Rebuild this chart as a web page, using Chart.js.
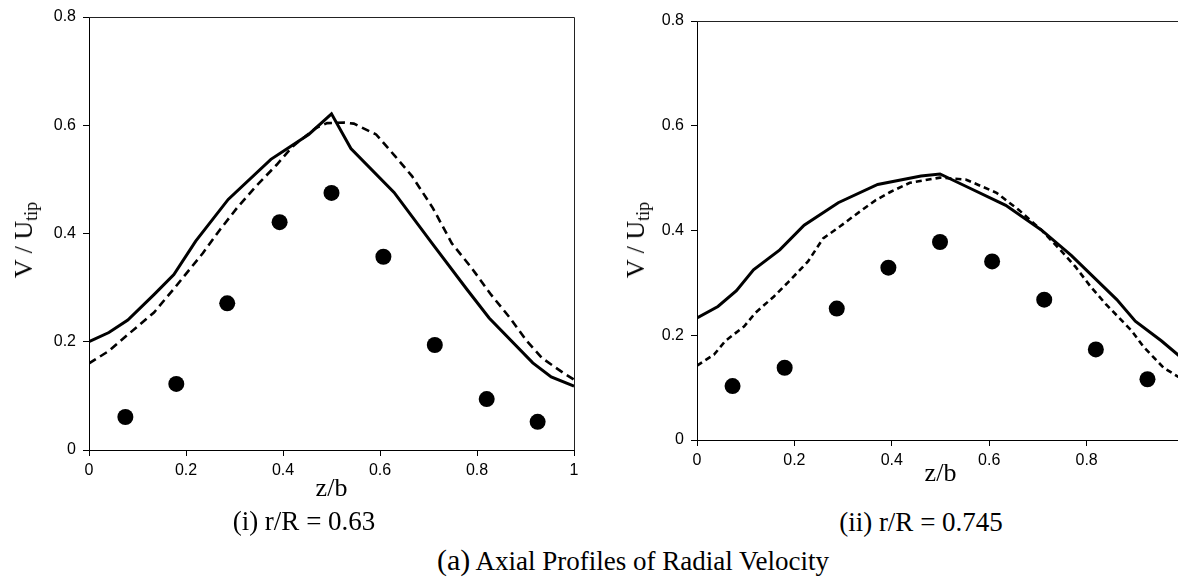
<!DOCTYPE html>
<html>
<head>
<meta charset="utf-8">
<title>Axial Profiles of Radial Velocity</title>
<script src="https://cdn.jsdelivr.net/npm/chart.js@4.4.1/dist/chart.umd.min.js"></script>
<style>
    html, body { margin: 0; padding: 0; background: #fff; }
    body { position: relative; width: 1178px; height: 577px; overflow: hidden; }
    .box { position: absolute; top: 0; }
    .serif { position: absolute; font-family: 'Liberation Serif', 'Times New Roman', serif; color: #000; white-space: nowrap; line-height: 1; }
    .ytitle { font-size: 26px; transform: translate(-50%, -50%) rotate(-90deg); }
    .ytitle sub { font-size: 18px; line-height: 0; vertical-align: -5px; }
    .caption { font-size: 27px; transform: translateX(-50%); }
    .caption .tag { font-size: 30px; }
</style>
</head>
<body>
<div class="box" style="left:0; width:590px; height:509px;"><canvas id="chartLeft"></canvas></div>
<div class="box" style="left:590px; width:610px; height:494px;"><canvas id="chartRight"></canvas></div>

<div class="serif ytitle" style="left:24px; top:240px;">V / U<sub>tip</sub></div>
<div class="serif ytitle" style="left:636px; top:240px;">V / U<sub>tip</sub></div>
<div class="serif caption" style="left:304px; top:508px;">(i) r/R = 0.63</div>
<div class="serif caption" style="left:921px; top:509px;">(ii) r/R = 0.745</div>
<div class="serif caption" style="left:633px; top:545px;"><span class="tag">(a)</span> Axial Profiles of Radial Velocity</div>

<script>
// tick labels
const xTickLabels = ['0', '0.2', '0.4', '0.6', '0.8', '1'];
const yTickLabels = ['0', '0.2', '0.4', '0.6', '0.8'];

// (i) r/R = 0.63
const expZ1 = [0.075, 0.18, 0.285, 0.393, 0.5, 0.607, 0.713, 0.82, 0.925];
const expV1 = [0.061, 0.122, 0.271, 0.421, 0.475, 0.357, 0.194, 0.094, 0.052];
const solidZ1 = [0, 0.041, 0.08, 0.134, 0.175, 0.22, 0.287, 0.375, 0.406, 0.453, 0.5, 0.54, 0.629, 0.709, 0.779, 0.825, 0.915, 0.953, 1.0];
const solidV1 = [0.2, 0.217, 0.24, 0.287, 0.324, 0.386, 0.463, 0.537, 0.555, 0.583, 0.621, 0.557, 0.476, 0.38, 0.297, 0.244, 0.161, 0.135, 0.118];
const dashZ1 = [0, 0.041, 0.076, 0.134, 0.177, 0.235, 0.27, 0.305, 0.344, 0.387, 0.42, 0.468, 0.491, 0.526, 0.546, 0.592, 0.631, 0.666, 0.709, 0.748, 0.79, 0.829, 0.868, 0.903, 0.934, 0.977, 1.0];
const dashV1 = [0.16, 0.183, 0.21, 0.254, 0.3, 0.364, 0.407, 0.447, 0.487, 0.527, 0.561, 0.595, 0.604, 0.605, 0.603, 0.583, 0.543, 0.506, 0.447, 0.382, 0.335, 0.287, 0.244, 0.201, 0.17, 0.143, 0.13];

// (ii) r/R = 0.745
const expZ2 = [0.073, 0.18, 0.287, 0.393, 0.499, 0.606, 0.713, 0.819, 0.925];
const expV2 = [0.103, 0.138, 0.251, 0.329, 0.378, 0.341, 0.268, 0.173, 0.116];
const solidZ2 = [0, 0.043, 0.081, 0.116, 0.17, 0.22, 0.29, 0.371, 0.46, 0.499, 0.553, 0.634, 0.707, 0.769, 0.862, 0.9, 0.954, 0.991, 1.0];
const solidV2 = [0.233, 0.255, 0.285, 0.325, 0.363, 0.41, 0.453, 0.488, 0.504, 0.508, 0.484, 0.448, 0.401, 0.352, 0.268, 0.227, 0.189, 0.16, 0.155];
const dashZ2 = [0, 0.035, 0.058, 0.097, 0.12, 0.158, 0.189, 0.228, 0.259, 0.294, 0.321, 0.367, 0.398, 0.437, 0.499, 0.553, 0.615, 0.661, 0.707, 0.746, 0.777, 0.808, 0.839, 0.893, 0.916, 0.958, 0.991, 1.0];
const dashV2 = [0.142, 0.163, 0.189, 0.217, 0.243, 0.274, 0.303, 0.341, 0.385, 0.408, 0.427, 0.458, 0.474, 0.491, 0.501, 0.497, 0.472, 0.439, 0.401, 0.363, 0.331, 0.293, 0.26, 0.208, 0.179, 0.138, 0.119, 0.115];

const toPoints = (xs, ys) => xs.map((x, i) => ({ x: x, y: ys[i] }));

// top and right border of the plot box
const frame = {
    id: 'frame',
    beforeDatasetsDraw(chart) {
        const { ctx, chartArea: a } = chart;
        ctx.save();
        ctx.strokeStyle = '#222';
        ctx.lineWidth = 1;
        ctx.beginPath();
        ctx.moveTo(a.left, Math.round(a.top) + 0.5);
        ctx.lineTo(Math.round(a.right) + 0.5, Math.round(a.top) + 0.5);
        ctx.lineTo(Math.round(a.right) + 0.5, a.bottom);
        ctx.stroke();
        ctx.restore();
    }
};

function makeChart(id, exp, solid, dash, dashPattern, pad, xHeight) {
    const ctx = document.getElementById(id).getContext('2d');
    return new Chart(ctx, {
        type: 'scatter',
        data: {
            datasets: [
                {
                    label: 'Experiment',
                    data: exp,
                    pointRadius: 8,
                    pointBackgroundColor: '#000',
                    pointBorderWidth: 0,
                    showLine: false
                },
                {
                    label: 'Model A',
                    data: solid,
                    showLine: true,
                    borderColor: '#000',
                    borderWidth: 3,
                    pointRadius: 0,
                    tension: 0
                },
                {
                    label: 'Model B',
                    data: dash,
                    showLine: true,
                    borderColor: '#000',
                    borderWidth: 2.6,
                    borderDash: dashPattern,
                    pointRadius: 0,
                    tension: 0
                }
            ]
        },
        options: {
            responsive: true,
            maintainAspectRatio: false,
            animation: false,
            layout: { padding: pad },
            plugins: {
                legend: { display: false },
                tooltip: { enabled: false }
            },
            scales: {
                x: {
                    type: 'linear',
                    min: 0,
                    max: 1,
                    border: { color: '#000', width: 1 },
                    grid: { drawOnChartArea: false, tickLength: 6, tickColor: '#000' },
                    ticks: {
                        stepSize: 0.2,
                        padding: 5,
                        color: '#000',
                        font: { family: "'Liberation Sans', Arial, sans-serif", size: 16 },
                        maxRotation: 0,
                        callback: (v, i) => xTickLabels[i]
                    },
                    title: {
                        display: true,
                        text: 'z/b',
                        color: '#000',
                        padding: { top: 0, bottom: 4 },
                        font: { family: "'Liberation Serif', 'Times New Roman', serif", size: 26 }
                    },
                    afterFit: (scale) => { scale.height = xHeight; }
                },
                y: {
                    min: 0,
                    max: 0.8,
                    border: { color: '#000', width: 1 },
                    grid: { drawOnChartArea: false, tickLength: 6, tickColor: '#000' },
                    ticks: {
                        stepSize: 0.2,
                        padding: 7,
                        color: '#000',
                        font: { family: "'Liberation Sans', Arial, sans-serif", size: 16 },
                        callback: (v, i) => yTickLabels[i]
                    },
                    afterFit: (scale) => { scale.width = 40; }
                }
            }
        },
        plugins: [frame]
    });
}

const chartLeft = makeChart('chartLeft',
    toPoints(expZ1, expV1), toPoints(solidZ1, solidV1), toPoints(dashZ1, dashV1),
    [8, 5], { top: 17, left: 49, right: 16, bottom: 0 }, 59);

const chartRight = makeChart('chartRight',
    toPoints(expZ2, expV2), toPoints(solidZ2, solidV2), toPoints(dashZ2, dashV2),
    [6, 4], { top: 21, left: 67, right: 16, bottom: 0 }, 54);
</script>
</body>
</html>
